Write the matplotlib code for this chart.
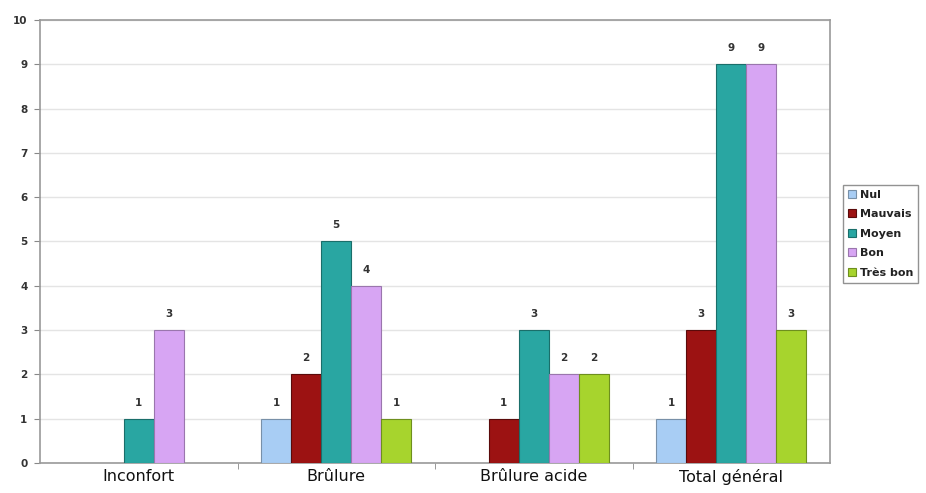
import matplotlib
matplotlib.use("Agg")
import matplotlib.pyplot as plt
import numpy as np

categories = ["Inconfort", "Brûlure", "Brûlure acide", "Total général"]
series_names = ["Nul", "Mauvais", "Moyen", "Bon", "Très bon"]
nul = [0, 1, 0, 1]
mauvais = [0, 2, 1, 3]
moyen = [1, 5, 3, 9]
bon = [3, 4, 2, 9]
tres_bon = [0, 1, 2, 3]
values = [nul, mauvais, moyen, bon, tres_bon]
colors = ["#a8cdf4", "#9c1212", "#29a6a2", "#d7a5f3", "#a7d42d"]
edges = ["#7890a8", "#5a0a0a", "#1a6e6a", "#9a76ad", "#6e8f1e"]

fig = plt.figure(figsize=(9.26, 4.93), dpi=100)
ax = fig.add_axes([40/926, 30/493, 790/926, 443/493])

n = len(series_names)
bw = 0.152
x = np.arange(len(categories))
for i, (name, vals) in enumerate(zip(series_names, values)):
    offs = (i - (n - 1) / 2) * bw
    vv = np.array(vals, dtype=float)
    mask = vv > 0
    ax.bar(x[mask] + offs, vv[mask], width=bw, color=colors[i],
           edgecolor=edges[i], linewidth=0.8, label=name, zorder=3)
    for xi, v in zip(x[mask] + offs, vv[mask]):
        ax.text(xi, v + 0.25, f"{int(v)}", ha="center", va="bottom",
                fontsize=7.5, fontweight="bold", color="#333333")

ax.set_xlim(-0.5, len(categories) - 0.5)
ax.set_ylim(0, 10)
ax.set_yticks(range(0, 11))
ax.set_yticklabels([str(i) for i in range(0, 11)], fontsize=7.5, fontweight="bold", color="#333333")
ax.yaxis.grid(True, color="#e4e4e4", linewidth=1, zorder=0)
ax.set_axisbelow(True)

ax.set_xticks(x)
ax.set_xticklabels(categories, fontsize=11.5, color="#111111")
ax.tick_params(axis="x", length=0, pad=4)
ax.set_xticks(np.arange(0.5, len(categories) - 1, 1.0), minor=True)
ax.tick_params(axis="x", which="minor", length=4, color="#888888")
ax.tick_params(axis="y", length=4, color="#888888", pad=5)

for s in ax.spines.values():
    s.set_color("#9a9a9a")
    s.set_linewidth(1.2)

leg = ax.legend(loc="upper left", bbox_to_anchor=(1.0165, 0.628), frameon=True,
                fancybox=False, edgecolor="#777777",
                prop={"weight": "bold", "size": 8}, handlelength=0.75,
                handleheight=0.75, handletextpad=0.3, labelspacing=0.85,
                borderpad=0.45, borderaxespad=0)
for t in leg.get_texts():
    t.set_color("#222222")

fig.savefig("out.png", dpi=100)
